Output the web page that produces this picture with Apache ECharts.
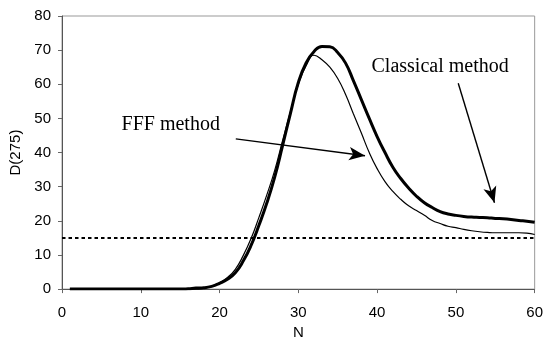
<!DOCTYPE html>
<html>
<head>
<meta charset="utf-8">
<script src="https://cdn.jsdelivr.net/npm/echarts@6/dist/echarts.min.js"></script>
<style>html,body{margin:0;padding:0;background:#fff}#c{width:546px;height:345px}</style>
</head>
<body>
<div id="c"></div>
<script>
var nValues = [];
for (var i = 1; i <= 60; i++) nValues.push(i);
var classical = [0,0,0,0,0,0,0,0,0,0,0,0,0,0,0,0.1,0.3,0.4,0.8,1.7,2.9,4.8,8.2,12.8,18.7,25.2,32.8,42,51.5,60.5,66.3,69.6,71.1,71,69.3,66.2,61,55.5,50,44.7,40,35.7,32.4,29.6,27.2,25.3,23.9,22.7,22,21.6,21.3,21.1,21.0,20.9,20.7,20.6,20.4,20.1,19.9,19.6];
var fff = [0,0,0,0,0,0,0,0,0,0,0,0,0,0,0,0,0,0.3,0.8,1.9,3.4,5.8,9.8,14.8,21,27.6,34.8,43.5,52,60,65.5,68.5,67.2,65,61.7,57,51.3,45.7,40,35.3,31.5,28.6,26.3,24.4,23,21.6,20.1,19.2,18.4,18,17.5,17.1,16.8,16.6,16.5,16.5,16.5,16.5,16.4,16.0];
var threshold = 15;
var xTicks = [0,10,20,30,40,50,60];
var yTicks = [0,10,20,30,40,50,60,70,80];
var fffLabel = {text:'FFF method', at:[13.8,48]};
var classicalLabel = {text:'Classical method', at:[48,65]};
var fffArrow = [[22.06,44.0],[38.47,39.05]];
var classicalArrow = [[50.3,60.3],[54.9,25.3]];

function pairs(xs, ys){ return xs.map(function(x,i){return [x, ys[i]];}); }

var chart = echarts.init(document.getElementById('c'), null, {renderer:'canvas'});
var arrowStyle = {color:'#000', width:1.4, type:'solid'};
chart.setOption({
  animation:false,
  backgroundColor:'#fff',
  grid:{left:62, right:9, top:16, bottom:47, show:true, borderColor:'#999', borderWidth:1},
  xAxis:{type:'value', min:xTicks[0], max:xTicks[xTicks.length-1], interval:10,
    name:'N', nameLocation:'middle', nameGap:35,
    nameTextStyle:{fontFamily:'Liberation Sans', fontSize:15, color:'#000'},
    axisLine:{show:true, lineStyle:{color:'#555', width:1}},
    axisTick:{show:true, length:4, lineStyle:{color:'#666'}},
    axisLabel:{margin:16, fontFamily:'Liberation Sans', fontSize:15, color:'#000'},
    splitLine:{show:false}},
  yAxis:{type:'value', min:yTicks[0], max:yTicks[yTicks.length-1], interval:10,
    name:'D(275)', nameLocation:'middle', nameGap:38,
    nameTextStyle:{fontFamily:'Liberation Sans', fontSize:15, color:'#000'},
    axisLine:{show:true, lineStyle:{color:'#555', width:1}},
    axisTick:{show:true, length:4, lineStyle:{color:'#666'}},
    axisLabel:{margin:11, fontFamily:'Liberation Sans', fontSize:15, color:'#000'},
    splitLine:{show:false}},
  series:[
    {type:'line', name:'Classical method', data:pairs(nValues, classical), showSymbol:false, symbol:'none',
     smooth:0.5, lineStyle:{color:'#000', width:3}, z:3,
     markPoint:{symbol:'circle', symbolSize:0, silent:true,
       data:[{coord:classicalLabel.at, label:{show:true, position:'inside', formatter:classicalLabel.text, fontFamily:'Liberation Serif', fontSize:20, color:'#000'}}]},
     markLine:{silent:true, symbol:['none','arrow'], symbolSize:[10,16], lineStyle:arrowStyle, label:{show:false},
       data:[[{coord:classicalArrow[0]},{coord:classicalArrow[1]}]]}
    },
    {type:'line', name:'FFF method', data:pairs(nValues, fff), showSymbol:false, symbol:'none',
     smooth:0.5, lineStyle:{color:'#000', width:1.2}, z:4,
     markPoint:{symbol:'circle', symbolSize:0, silent:true,
       data:[{coord:fffLabel.at, label:{show:true, position:'inside', formatter:fffLabel.text, fontFamily:'Liberation Serif', fontSize:20, color:'#000'}}]},
     markLine:{silent:true, symbol:['none','arrow'], symbolSize:[10,16], lineStyle:arrowStyle, label:{show:false},
       data:[[{coord:fffArrow[0]},{coord:fffArrow[1]}]]}
    },
    {type:'line', name:'threshold', data:[], showSymbol:false,
     markLine:{silent:true, symbol:['none','none'], label:{show:false},
       lineStyle:{color:'#000', width:2, type:[3.5,3]},
       data:[{yAxis:threshold}]}}
  ]
});
</script>
</body>
</html>
